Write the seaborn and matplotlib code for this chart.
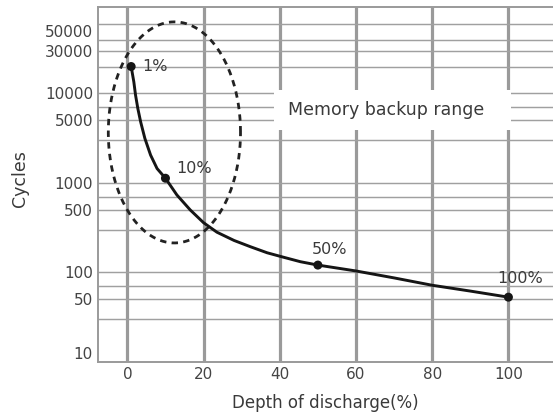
import numpy as np
import matplotlib
matplotlib.use("Agg")
import matplotlib.pyplot as plt
from matplotlib.patches import Rectangle
import seaborn as sns

# Cycle life versus depth of discharge (curve samples)
depth = [1, 1.7, 2.15, 2.75, 3.5, 4.6, 6.1, 7.8, 10, 13, 16.5, 20, 23.5, 28,
         32.3, 36.7, 41, 45.4, 50, 60, 70, 80, 90, 100]
cycles = [20000, 13500, 9600, 6800, 4800, 3150, 2050, 1450, 1130, 735, 500,
          360, 282, 228, 194, 166, 148, 132, 121, 104, 87, 72, 62, 53]

# Highlighted points with their labels
marked_depth = [1, 10, 50, 100]
marked_cycles = [20000, 1130, 121, 53]
marked_labels = ["1%", "10%", "50%", "100%"]

# Axis ticks and grid levels
x_ticks = [0, 20, 40, 60, 80, 100]
y_ticks = [10, 50, 100, 500, 1000, 5000, 10000, 30000, 50000]
y_tick_labels = ["10", "50", "100", "500", "1000", "5000", "10000", "30000", "50000"]
y_grid = [30, 50, 70, 100, 300, 500, 700, 1000, 3000, 5000, 7000, 10000,
          20000, 30000, 40000, 60000]

sns.set_theme(style="white")
plt.rcParams["font.family"] = ["DejaVu Sans"]

GRID = "#9a9a9a"
INK = "#151515"
TEXT = "#3a3a3a"

fig = plt.figure(figsize=(5.53, 4.13), dpi=100)
ax = fig.add_axes([98 / 553, 1 - 362 / 413, 1 - 98 / 553, 355 / 413])
ax.set_yscale("log")
ax.set_xlim(-7.7, 111.7)
ax.set_ylim(10, 92500)

# Grid: heavy verticals, light horizontals
for xv in x_ticks:
    ax.axvline(xv, color=GRID, lw=2.3, zorder=1)
for yv in y_grid:
    ax.axhline(yv, color="#a0a0a0", lw=1.05, zorder=1)

# Blank panel behind the range caption
ax.add_patch(Rectangle((38.6, 3900), 62.0, 10900 - 3900, facecolor="white",
                       edgecolor="none", zorder=2))
ax.text(67.8, 6550, "Memory backup range", ha="center", va="center",
        fontsize=12.5, color=TEXT, zorder=3)

# Dashed ellipse marking the memory backup region (drawn in log space)
t = np.linspace(0, 2 * np.pi, 400)
ell_cx, ell_rx = 12.35, 17.35
ell_cy, ell_ry = 3.565, 1.235
ax.plot(ell_cx + ell_rx * np.cos(t), 10 ** (ell_cy + ell_ry * np.sin(t)),
        color="#222222", lw=2.0, ls=(0, (2.3, 1.9)), zorder=4)

# Curve and marked points
sns.lineplot(x=depth, y=cycles, ax=ax, color=INK, lw=2.1, sort=False,
             estimator=None, zorder=5)
sns.scatterplot(x=marked_depth, y=marked_cycles, ax=ax, s=42, color=INK,
                edgecolor="none", zorder=6)

offsets = [(8, 0, "left"), (8, 7, "left"), (8.6, 11, "center"), (8.3, 13.7, "center")]
for xd, yd, lab, (dx, dy, ha) in zip(marked_depth, marked_cycles, marked_labels, offsets):
    ax.annotate(lab, (xd, yd), xytext=(dx, dy), textcoords="offset points",
                ha=ha, va="center", fontsize=11.5, color=TEXT, zorder=7)

ax.set_xticks(x_ticks)
ax.set_xticklabels([str(v) for v in x_ticks])
ax.set_yticks(y_ticks)
ax.set_yticklabels(y_tick_labels)
ax.yaxis.set_minor_locator(matplotlib.ticker.NullLocator())
ax.tick_params(length=0, pad=3.6, labelsize=11, labelcolor="#444444")
ax.yaxis.get_major_ticks()[0].label1.set_verticalalignment("bottom")

ax.set_xlabel("Depth of discharge(%)", fontsize=12, color=TEXT, labelpad=9)
ax.set_ylabel("Cycles", fontsize=12.5, color=TEXT)
ax.yaxis.set_label_coords(-0.152, 0.518)

for side in ["left", "bottom", "top"]:
    ax.spines[side].set_color(GRID)
    ax.spines[side].set_linewidth(1.4)
ax.spines["right"].set_visible(False)

fig.savefig("out.png", dpi=100)
